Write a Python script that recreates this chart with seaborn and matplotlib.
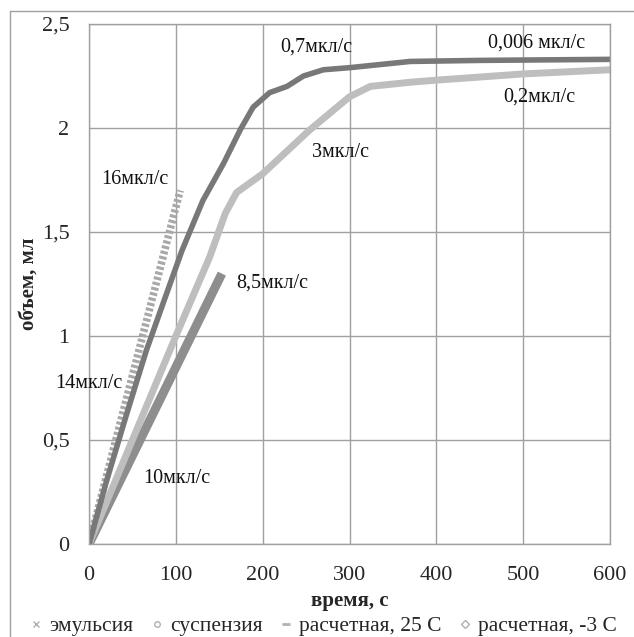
import matplotlib
matplotlib.use("Agg")
import matplotlib.pyplot as plt
import seaborn as sns
import pandas as pd
from matplotlib.lines import Line2D
from matplotlib.ticker import FuncFormatter

# ---- data ----
emul_t = [0, 20, 43, 66, 89, 107, 131, 155, 174, 189, 208, 228, 247, 270, 300, 370, 450, 600]
emul_v = [0, 0.30, 0.62, 0.93, 1.20, 1.41, 1.65, 1.83, 1.99, 2.10, 2.17, 2.20, 2.25, 2.28, 2.29, 2.32, 2.325, 2.33]

susp_t = [0, 60, 100, 139, 157, 170, 200, 254, 300, 324, 370, 400, 500, 600]
susp_v = [0, 0.60, 1.00, 1.38, 1.59, 1.69, 1.78, 1.99, 2.15, 2.20, 2.22, 2.23, 2.26, 2.28]

calc25_t = [0, 105]
calc25_v = [0, 1.70]

calcm3_t = [0, 153]
calcm3_v = [0, 1.30]

labels = ["эмульсия", "суспензия", "расчетная, 25 С", "расчетная, -3 С"]
x_ticks = [0, 100, 200, 300, 400, 500, 600]
y_ticks = [0, 0.5, 1, 1.5, 2, 2.5]

ann_text = ["0,7мкл/с", "0,006 мкл/с", "0,2мкл/с", "3мкл/с", "16мкл/с", "8,5мкл/с", "14мкл/с", "10мкл/с"]
ann_x = [220, 459, 477, 257, 14, 170, -39, 62]
ann_y = [2.39, 2.41, 2.15, 1.88, 1.75, 1.255, 0.774, 0.317]

# ---- style ----
sns.set_style("white")
plt.rcParams["font.family"] = ["Liberation Serif", "DejaVu Serif"]

fig = plt.figure(figsize=(6.34, 6.37), dpi=100)
ax = fig.add_axes([89/634, 1-544/637, (610-89)/634, (544-24)/637])

c_emul = "#787878"
c_susp = "#bebebe"
c_25 = "#a8a8a8"
c_m3 = "#8e8e8e"

sns.lineplot(x=calcm3_t, y=calcm3_v, ax=ax, color=c_m3, linewidth=6.5, solid_capstyle="butt")
sns.lineplot(x=susp_t, y=susp_v, ax=ax, color=c_susp, linewidth=5, solid_capstyle="round")
sns.lineplot(x=calc25_t, y=calc25_v, ax=ax, color=c_25, linewidth=5.5,
             linestyle=(0, (0.4, 0.3)), dash_capstyle="butt")
sns.lineplot(x=emul_t, y=emul_v, ax=ax, color=c_emul, linewidth=4, solid_capstyle="butt")

ax.set_xlim(0, 600)
ax.set_ylim(0, 2.5)
ax.set_xticks(x_ticks)
ax.set_yticks(y_ticks)
ax.yaxis.set_major_formatter(FuncFormatter(lambda v, p: ("%g" % v).replace(".", ",")))
ax.grid(True, color="#a0a0a0", linewidth=1)
ax.set_axisbelow(True)
for s in ax.spines.values():
    s.set_color("#a0a0a0")
    s.set_linewidth(1)
ax.tick_params(axis="x", length=0, labelsize=16, pad=16)
ax.tick_params(axis="y", length=0, labelsize=16, pad=14)

ax.set_xlabel("время, с", fontsize=15, fontweight="bold", labelpad=4)
ax.set_ylabel("объем, мл", fontsize=15, fontweight="bold", labelpad=2)

for t, x, y in zip(ann_text, ann_x, ann_y):
    ax.text(x, y, t, fontsize=14.5, ha="left", va="center", color="#111111", clip_on=False)

handles = [
    Line2D([], [], linestyle="none", marker="x", markersize=4, color="#b0b0b0"),
    Line2D([], [], linestyle="none", marker="o", markersize=4, markerfacecolor="white", markeredgecolor="#b0b0b0"),
    Line2D([], [], linestyle="none", marker="_", markersize=6, markeredgewidth=2, color="#b0b0b0"),
    Line2D([], [], linestyle="none", marker="D", markersize=4, markerfacecolor="white", markeredgecolor="#b0b0b0"),
]
fig.legend(handles, labels, loc="center", bbox_to_anchor=(0.51, 1-626/637), ncol=4,
           frameon=False, fontsize=15.5, handlelength=0.6, handletextpad=0.3, columnspacing=0.8,
           borderpad=0)

# outer chart-area border (left and top visible)
fig.add_artist(Line2D([10/634, 10/634], [0, 1-11/637], color="#a0a0a0", linewidth=1, transform=fig.transFigure))
fig.add_artist(Line2D([10/634, 1], [1-11/637, 1-11/637], color="#a0a0a0", linewidth=1, transform=fig.transFigure))

fig.savefig("out.png", dpi=100, facecolor="white")
